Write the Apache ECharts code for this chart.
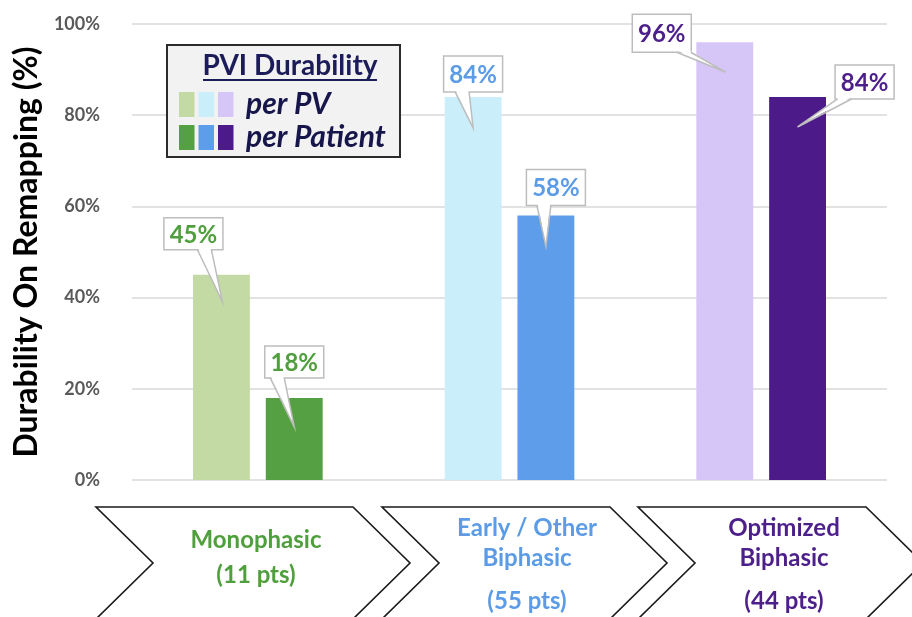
<!DOCTYPE html>
<html>
<head>
<meta charset="utf-8">
<script src="https://cdn.jsdelivr.net/npm/echarts@6/dist/echarts.min.js"></script>
<style>
html,body{margin:0;padding:0;background:#fff;}
#chart{width:912px;height:617px;}
</style>
</head>
<body>
<div id="chart"></div>
<script>
// ---------------- DATA ----------------
const categories = ['Monophasic', 'Early / Other Biphasic', 'Optimized Biphasic'];
const categoryNameLines = ['Monophasic', 'Early / Other\nBiphasic', 'Optimized\nBiphasic'];
const categoryPts = ['(11 pts)', '(55 pts)', '(44 pts)'];
const perPV = [45, 84, 96];
const perPatient = [18, 58, 84];
const yTicks = [0, 20, 40, 60, 80, 100];
const legendTitle = 'PVI Durability';
const seriesNames = ['per PV', 'per Patient'];
const yTitle = 'Durability On Remapping (%)';

// ---------------- STYLE / LAYOUT ----------------
const pvColors = ['#c4daa5', '#cbeefb', '#d6c6f8'];
const patientColors = ['#55a043', '#5e9de9', '#4d1b89'];
const textColors = ['#4f9f3d', '#5c9be6', '#4d1f8b'];
const FONT = 'Lato';
const BAR_W = 0.226;     // fraction of band
const BAR_GAP = 0.28;    // fraction of bar width

const calloutLayout = {
  pv: [
    {dx: -28, dy: -41, h: 32, base: 11, tipDx: 1, tipDy: 27},
    {dx: 0, dy: -23, h: 36, base: -11, tipDx: 0, tipDy: 31},
    {dx: -63, dy: -9, h: 38, base: 22, tipDx: 1, tipDy: 30}
  ],
  pt: [
    {dx: 0, dy: -36, h: 32, base: -17, tipDx: 0, tipDy: 29},
    {dx: 10, dy: -28, h: 36, base: -12, tipDx: 0, tipDy: 31},
    {dx: 67, dy: -15, h: 34, base: -20, tipDx: 0, tipDy: 30}
  ]
};
const chevrons = [[96, 353], [382, 610], [638, 866]];
const chevTop = 507, chevMid = 563, chevBot = 619, chevDepth = 57;
const catTextX = [256, 527, 784];
const catNameY = [540, 543, 543];
const catPtsY = [575.5, 601, 601];

// ---------------- CHART ----------------
const chart = echarts.init(document.getElementById('chart'), null, {renderer: 'canvas'});

function calloutRenderer(layoutKey, sign) {
  return function (params, api) {
    const i = api.value(0);
    const v = api.value(1);
    const band = api.size([1, 0])[0];
    const bw = band * BAR_W;
    const gap = bw * BAR_GAP;
    const c = api.coord([i, v]);
    const cx = c[0] + sign * (bw + gap) / 2;
    const ty = c[1];
    const L = calloutLayout[layoutKey][i];
    const w = 59, h = L.h;
    const bx = cx + L.dx, by = ty + L.dy;
    const left = bx - w / 2, top = by - h / 2;
    const bottom = top + h;
    const baseC = bx + L.base;
    const b1 = [baseC - 7, bottom], b2 = [baseC + 7, bottom];
    const tip = [cx + L.tipDx, ty + L.tipDy];
    return {
      type: 'group',
      children: [
        {type: 'rect', shape: {x: left, y: top, width: w, height: h},
         style: {fill: '#ffffff', stroke: '#bdbdbd', lineWidth: 1.5}},
        {type: 'polygon', shape: {points: [[b1[0] + 0.8, bottom - 1.5], [b2[0] - 0.8, bottom - 1.5], tip]},
         style: {fill: '#ffffff', stroke: null}},
        {type: 'polyline', shape: {points: [b1, tip, b2]},
         style: {fill: null, stroke: '#bdbdbd', lineWidth: 1.5}},
        {type: 'text', x: bx, y: by + 1,
         style: {text: v + '%', fill: textColors[i], font: 'bold 24px ' + FONT,
                 textAlign: 'center', textVerticalAlign: 'middle'}}
      ]
    };
  };
}

// graphic: legend + chevrons + category texts
const graphic = [];
chevrons.forEach(function (ch) {
  const l = ch[0], r = ch[1];
  graphic.push({
    type: 'polygon', z: 1,
    shape: {points: [[l, chevTop], [r, chevTop], [r + chevDepth, chevMid], [r, chevBot],
                     [l, chevBot], [l + chevDepth, chevMid]]},
    style: {fill: '#ffffff', stroke: '#1a1a1a', lineWidth: 1.6}
  });
});
categories.forEach(function (cat, i) {
  graphic.push({
    type: 'text', z: 2, x: catTextX[i], y: catNameY[i],
    style: {
      text: categoryNameLines[i], font: 'bold 24px ' + FONT, lineHeight: 30,
      fill: textColors[i], textAlign: 'center', textVerticalAlign: 'middle', align: 'center'
    }
  });
  graphic.push({
    type: 'text', z: 2, x: catTextX[i], y: catPtsY[i],
    style: {
      text: categoryPts[i], font: 'bold 24px ' + FONT,
      fill: textColors[i], textAlign: 'center', textVerticalAlign: 'middle'
    }
  });
});
// legend box
graphic.push({type: 'rect', z: 10, shape: {x: 167, y: 45, width: 233, height: 112},
  style: {fill: '#f2f2f2', stroke: '#2b2b2b', lineWidth: 2}});
graphic.push({type: 'text', z: 11, x: 290, y: 66,
  style: {text: legendTitle, font: 'bold 28px ' + FONT, fill: '#1c1c5a',
          textAlign: 'center', textVerticalAlign: 'middle'}});
graphic.push({type: 'line', z: 11, shape: {x1: 203, y1: 80, x2: 377, y2: 80},
  style: {stroke: '#1c1c5a', lineWidth: 2}});
[pvColors, patientColors].forEach(function (cols, row) {
  const y = row === 0 ? 92 : 125;
  cols.forEach(function (col, k) {
    graphic.push({type: 'rect', z: 11, shape: {x: 179 + k * 19.5, y: y, width: 15.5, height: 25},
      style: {fill: col}});
  });
  graphic.push({type: 'text', z: 11, x: 246, y: y + 12.5,
    style: {text: seriesNames[row], font: 'italic bold 30px ' + FONT, fill: '#16164a',
            textAlign: 'left', textVerticalAlign: 'middle'}});
});

const option = {
  backgroundColor: '#ffffff',
  animation: false,
  grid: {left: 132, right: 25, top: 24, bottom: 137, containLabel: false, outerBoundsMode: 'none'},
  xAxis: {
    type: 'category', data: categories,
    axisLine: {show: false}, axisTick: {show: false}, axisLabel: {show: false}
  },
  yAxis: {
    type: 'value', min: yTicks[0], max: yTicks[yTicks.length - 1], interval: 20,
    name: yTitle, nameLocation: 'middle', nameRotate: 90, nameGap: 88,
    nameTextStyle: {fontFamily: FONT, fontWeight: 'bold', fontSize: 32, color: '#000000'},
    axisLine: {show: false}, axisTick: {show: false},
    axisLabel: {formatter: '{value}%', fontFamily: FONT, fontWeight: 'bold', fontSize: 18,
                color: '#595959', margin: 32},
    splitLine: {lineStyle: {color: '#d9d9d9', width: 1.5}}
  },
  graphic: graphic,
  series: [
    {
      name: seriesNames[0], type: 'bar', barWidth: (BAR_W * 100) + '%', barGap: (BAR_GAP * 100) + '%',
      data: perPV.map(function (v, i) { return {value: v, itemStyle: {color: pvColors[i]}}; }),
      z: 2
    },
    {
      name: seriesNames[1], type: 'bar', barWidth: (BAR_W * 100) + '%', barGap: (BAR_GAP * 100) + '%',
      data: perPatient.map(function (v, i) { return {value: v, itemStyle: {color: patientColors[i]}}; }),
      z: 2
    },
    {
      type: 'custom', z: 5, clip: false,
      renderItem: calloutRenderer('pv', -1),
      data: perPV.map(function (v, i) { return [i, v]; })
    },
    {
      type: 'custom', z: 5, clip: false,
      renderItem: calloutRenderer('pt', 1),
      data: perPatient.map(function (v, i) { return [i, v]; })
    }
  ]
};
chart.setOption(option);
</script>
</body>
</html>
